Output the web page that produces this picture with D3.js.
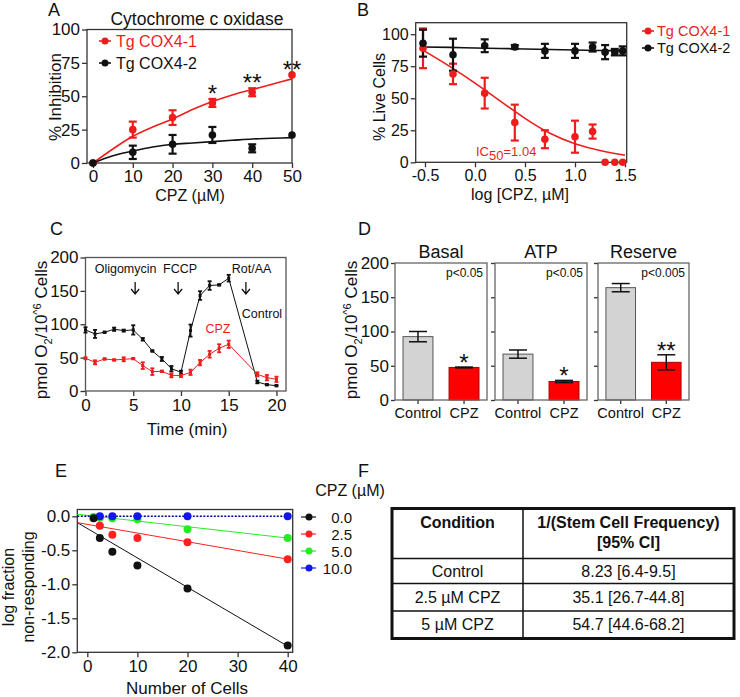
<!DOCTYPE html>
<html><head><meta charset="utf-8">
<script src="https://cdn.jsdelivr.net/npm/d3@7"></script>
<style>body{margin:0;background:#fff} svg{display:block} text{font-family:Arial,"Liberation Sans",Helvetica,sans-serif;fill:#111}</style>
</head><body><svg id="c" width="740" height="697"></svg>
<script>
// ---------------- DATA ----------------
// Panel A
const aDose = [0, 10, 20, 30, 40, 50];
const aCox1 = [0, 25, 34, 45, 53, 66];
const aCox1Err = [0, 6, 5.5, 3, 3, 0];
const aCox2 = [0, 8, 14, 21, 11, 21];
const aCox2Err = [0, 5, 7, 6, 3, 0];
const aFitDose = [0, 5, 10, 15, 20, 25, 30, 35, 40, 45, 50];
const aCox1Fit = [0, 10.5, 20, 27, 33, 40, 46, 51, 55, 59, 63];
const aCox2Fit = [0, 5.5, 9, 12, 14, 15, 16, 17, 18, 18.5, 19];
const aStars = [{dose: 30, s: "*"}, {dose: 40, s: "**"}, {dose: 50, s: "**"}];
const aXTicks = [0, 10, 20, 30, 40, 50];
const aYTicks = [0, 25, 50, 75, 100];
// Panel B
const bLogDose = [-0.52, -0.22, 0.097, 0.398, 0.699, 1.0, 1.176, 1.301, 1.398, 1.477];
const bCox1 = [89, 69, 54, 31, 18, 20, 24, 0, 0, 0];
const bCox1Err = [15.5, 8, 12, 14, 7, 12.5, 5.5, 0, 0, 0];
const bCox2 = [93, 84, 91, 90, 87, 87, 90, 86, 86, 87];
const bCox2Err = [10.5, 12.5, 5, 1.5, 5.5, 5.5, 3.5, 5.5, 2.5, 3.5];
const bFitX = [-0.52, -0.25, 0, 0.25, 0.5, 0.75, 1.0, 1.25, 1.5];
const bCox1Fit = [87.5, 75, 62, 48, 34, 22, 14, 9, 5.5];
const bCox2Fit = [90, 89.7, 89.3, 88.9, 88.5, 88.1, 87.7, 87.3, 87];
const bXTicks = [-0.5, 0, 0.5, 1.0, 1.5];
const bXLabels = ["-0.5", "0.0", "0.5", "1.0", "1.5"];
const bYTicks = [0, 25, 50, 75, 100];
// Panel C
const cTime = [0, 1, 2, 3, 4, 5, 6, 7, 8, 9, 10, 11, 12, 13, 14, 15, 18, 19, 20];
const cControl = [91.5, 85.5, 88, 92.5, 90.5, 91.5, 77.5, 60, 48, 33.5, 28, 90.5, 143, 158, 159, 169, 13.5, 9.5, 8];
const cControlErr = [4, 6, 1, 2.5, 1.5, 7, 2, 1, 3, 4, 2.5, 9, 6.5, 6.5, 1, 5, 2, 1, 1];
const cCPZ = [49, 43, 48, 46.5, 47.5, 48.5, 38, 29, 29.5, 23.5, 23, 28, 42.5, 55, 64, 70, 25, 20, 17.5];
const cCPZErr = [1.5, 3, 1, 1, 3, 1, 5, 5, 1, 3, 2, 4, 4, 5, 6, 5.5, 3, 4, 4];
const cXTicks = [0, 5, 10, 15, 20];
const cYTicks = [0, 50, 100, 150, 200];
const cEvents = [{name: "Oligomycin", t: 5.2, lx: 4.2}, {name: "FCCP", t: 9.7, lx: 9.9}, {name: "Rot/AA", t: 16.8, lx: 17.4}];
// Panel D
const dPanels = ["Basal", "ATP", "Reserve"];
const dGroups = ["Control", "CPZ"];
const dControl = [92.5, 67, 164];
const dControlErr = [7.5, 6, 6];
const dCPZ = [47.5, 27, 55];
const dCPZErr = [0.6, 1.6, 11];
const dPvals = ["p<0.05", "p<0.05", "p<0.005"];
const dStars = ["*", "*", "**"];
const dYTicks = [0, 50, 100, 150, 200];
// Panel E
const eConc = ["0.0", "2.5", "5.0", "10.0"];
const eCells0 = [1.25, 2.5, 5, 10, 20, 40];
const eVal0 = [-0.03, -0.32, -0.52, -0.725, -1.06, -1.9];
const eCells25 = [2.5, 5, 10, 20, 40];
const eVal25 = [-0.14, -0.27, -0.32, -0.38, -0.63];
const eCells50 = [1.25, 2.5, 5, 10, 20, 40];
const eVal50 = [-0.01, -0.02, -0.03, -0.045, -0.19, -0.32];
const eCells100 = [2.5, 5, 10, 20, 40];
const eVal100 = [0, 0, 0, 0, 0];
const eFitX = [-2, 40];
const eFit0 = [-0.093, -1.91];
const eFit25 = [-0.093, -0.63];
const eFit50 = [0.03, -0.32];
const eFit100 = [0, 0];
const eXTicks = [0, 10, 20, 30, 40];
const eYTicks = [0, -0.5, -1.0, -1.5, -2.0];
const eYLabels = ["0.0", "-0.5", "-1.0", "-1.5", "-2.0"];
// Panel F
const fHeader = ["Condition", "1/(Stem Cell Frequency)", "[95% CI]"];
const fConditions = ["Control", "2.5 \u00b5M CPZ", "5 \u00b5M CPZ"];
const fValues = ["8.23 [6.4-9.5]", "35.1 [26.7-44.8]", "54.7 [44.6-68.2]"];

// ---------------- HELPERS ----------------
const RED = "#ee1d1d";
const svg = d3.select("#c");

function txt(x, y, s, size, opts = {}) {
  const t = svg.append("text").attr("x", x).attr("y", y).attr("font-size", size)
    .attr("text-anchor", opts.anchor || "start").text(s);
  if (opts.fill) t.style("fill", opts.fill);
  if (opts.weight) t.attr("font-weight", opts.weight);
  return t;
}
function ylab(x, y, s, size) {
  return svg.append("text").attr("transform", `translate(${x},${y}) rotate(-90)`)
    .attr("text-anchor", "middle").attr("font-size", size).text(s);
}
function frame(x0, y0, x1, y1, col = "#444") {
  svg.append("rect").attr("x", x0).attr("y", y0).attr("width", x1 - x0).attr("height", y1 - y0)
    .attr("fill", "none").attr("stroke", col).attr("stroke-width", 1.3);
}
function styleAxis(g, fs) {
  g.select(".domain").remove();
  g.selectAll("line").attr("stroke", "#333").attr("stroke-width", 1.3);
  g.selectAll("text").attr("font-size", fs).style("fill", "#111");
}
function xAxis(scale, yPos, ticks, labels, fs, pad = 3) {
  const m = new Map(ticks.map((d, i) => [d, labels ? labels[i] : String(d)]));
  const g = svg.append("g").attr("transform", `translate(0,${yPos})`)
    .call(d3.axisBottom(scale).tickValues(ticks).tickFormat(d => m.get(d)).tickSize(5).tickSizeOuter(0).tickPadding(pad));
  styleAxis(g, fs);
  return g;
}
function yAxis(scale, xPos, ticks, labels, fs, pad = 2) {
  const m = new Map(ticks.map((d, i) => [d, labels ? labels[i] : String(d)]));
  const g = svg.append("g").attr("transform", `translate(${xPos},0)`)
    .call(d3.axisLeft(scale).tickValues(ticks).tickFormat(d => m.get(d)).tickSize(5).tickSizeOuter(0).tickPadding(pad));
  styleAxis(g, fs);
  return g;
}
function errBars(xs, ys, es, x, y, col, cap, sw) {
  xs.forEach((d, i) => {
    if (!es[i]) return;
    const cx = x(d), lo = y(ys[i] - es[i]), hi = y(ys[i] + es[i]);
    svg.append("line").attr("x1", cx).attr("x2", cx).attr("y1", lo).attr("y2", hi).attr("stroke", col).attr("stroke-width", sw);
    [lo, hi].forEach(yy => svg.append("line").attr("x1", cx - cap / 2).attr("x2", cx + cap / 2).attr("y1", yy).attr("y2", yy).attr("stroke", col).attr("stroke-width", sw));
  });
}
function curve(xs, ys, x, y, col, sw, c = d3.curveMonotoneX, dash = null) {
  const p = svg.append("path").datum(xs.map((d, i) => [d, ys[i]]))
    .attr("d", d3.line().x(d => x(d[0])).y(d => y(d[1])).curve(c))
    .attr("fill", "none").attr("stroke", col).attr("stroke-width", sw);
  if (dash) p.attr("stroke-dasharray", dash);
  return p;
}
function dots(xs, ys, x, y, col, r) {
  xs.forEach((d, i) => svg.append("circle").attr("cx", x(d)).attr("cy", y(ys[i])).attr("r", r).attr("fill", col));
}
function squares(xs, ys, x, y, col, s) {
  xs.forEach((d, i) => svg.append("rect").attr("x", x(d) - s / 2).attr("y", y(ys[i]) - s / 2).attr("width", s).attr("height", s).attr("fill", col));
}
function o2Label(x, y, size) {
  const t = svg.append("text").attr("transform", `translate(${x},${y}) rotate(-90)`)
    .attr("text-anchor", "middle").attr("font-size", size);
  t.append("tspan").text("pmol O");
  t.append("tspan").attr("font-size", size * 0.65).attr("dy", size * 0.3).text("2");
  t.append("tspan").attr("dy", -size * 0.3).text("/10");
  t.append("tspan").attr("font-size", size * 0.65).attr("dy", -size * 0.38).text("^6");
  t.append("tspan").attr("dy", size * 0.38).text(" Cells");
}

// ---------------- PANEL A ----------------
{
  const x = d3.scaleLinear().domain([-1.5, 50]).range([87, 292]);
  const y = d3.scaleLinear().domain([0, 100]).range([163, 29.5]);
  xAxis(x, 163, aXTicks, null, 17, 2);
  yAxis(y, 87, aYTicks, null, 17);
  frame(87, 29.5, 292, 163, "#333");
  curve(aFitDose, aCox1Fit, x, y, RED, 1.6);
  curve(aFitDose, aCox2Fit, x, y, "#111", 1.6);
  errBars(aDose, aCox1, aCox1Err, x, y, RED, 8, 2.2);
  errBars(aDose, aCox2, aCox2Err, x, y, "#111", 8, 2.2);
  dots(aDose, aCox1, x, y, RED, 3.8);
  dots(aDose, aCox2, x, y, "#111", 3.8);
  aStars.forEach(s => {
    const i = aDose.indexOf(s.dose);
    txt(x(s.dose), y(aCox1[i] + aCox1Err[i]) - 10 + 13, s.s, 24, {anchor: "middle"});
  });
  // legend
  [[RED, "Tg COX4-1", 41], ["#111", "Tg COX4-2", 63]].forEach(([c, s, yy]) => {
    svg.append("line").attr("x1", 99).attr("x2", 111).attr("y1", yy).attr("y2", yy).attr("stroke", c).attr("stroke-width", 1.6);
    svg.append("circle").attr("cx", 105).attr("cy", yy).attr("r", 3.5).attr("fill", c);
    txt(116, yy + 6, s, 16, {fill: c});
  });
  txt(197, 25, "Cytochrome c oxidase", 17.5, {anchor: "middle"});
  txt(190, 201, "CPZ (\u00b5M)", 16, {anchor: "middle"});
  ylab(61, 97, "% Inhibition", 17);
  txt(48, 16, "A", 18);
}

// ---------------- PANEL B ----------------
{
  const x = d3.scaleLinear().domain([-0.593, 1.517]).range([415.7, 626.7]);
  const y = d3.scaleLinear().domain([0, 109]).range([162.3, 22.7]);
  xAxis(x, 162.3, bXTicks, bXLabels, 16, 2);
  yAxis(y, 415.7, bYTicks, null, 16);
  frame(415.7, 22.7, 626.7, 162.3, "#333");
  curve(bFitX, bCox1Fit, x, y, RED, 1.6, d3.curveBasis);
  curve(bFitX, bCox2Fit, x, y, "#111", 1.6);
  errBars(bLogDose, bCox1, bCox1Err, x, y, RED, 8, 2.2);
  errBars(bLogDose, bCox2, bCox2Err, x, y, "#111", 8, 2.2);
  dots(bLogDose, bCox1, x, y, RED, 3.8);
  dots(bLogDose, bCox2, x, y, "#111", 3.8);
  [[RED, "Tg COX4-1", 31], ["#111", "Tg COX4-2", 48]].forEach(([c, s, yy]) => {
    svg.append("line").attr("x1", 642).attr("x2", 654).attr("y1", yy).attr("y2", yy).attr("stroke", c).attr("stroke-width", 1.6);
    svg.append("circle").attr("cx", 648).attr("cy", yy).attr("r", 3.5).attr("fill", c);
    txt(657, yy + 5, s, 14.5, {fill: c});
  });
  const ic = svg.append("text").attr("x", 476).attr("y", 156).attr("font-size", 13).style("fill", RED);
  ic.append("tspan").text("IC");
  ic.append("tspan").attr("dy", 4).attr("font-size", 13).text("50");
  ic.append("tspan").attr("dy", -4).text("=1.04");
  txt(520, 200, "log [CPZ, \u00b5M]", 16, {anchor: "middle"});
  ylab(385, 97, "% Live Cells", 16);
  txt(357, 16, "B", 18);
}

// ---------------- PANEL C ----------------
{
  const x = d3.scaleLinear().domain([0, 21]).range([85.5, 286]);
  const y = d3.scaleLinear().domain([0, 200]).range([391, 257.5]);
  xAxis(x, 391, cXTicks, null, 17);
  yAxis(y, 85.5, cYTicks, null, 17);
  frame(85.5, 257.5, 286, 391, "#555");
  curve(cTime, cControl, x, y, "#111", 1, d3.curveLinear);
  curve(cTime, cCPZ, x, y, RED, 1, d3.curveLinear);
  errBars(cTime, cControl, cControlErr, x, y, "#111", 4, 1.8);
  errBars(cTime, cCPZ, cCPZErr, x, y, RED, 4, 1.8);
  squares(cTime, cControl, x, y, "#111", 3);
  squares(cTime, cCPZ, x, y, RED, 3);
  cEvents.forEach(e => {
    txt(x(e.lx), 273, e.name, 12.5, {anchor: "middle"});
    const ax = x(e.t);
    svg.append("path").attr("d", `M${ax},282 V294 M${ax - 4},289 L${ax},294 L${ax + 4},289`)
      .attr("fill", "none").attr("stroke", "#111").attr("stroke-width", 1.3);
  });
  txt(262, 318, "Control", 12.5, {anchor: "middle"});
  txt(218, 333, "CPZ", 12.5, {anchor: "middle", fill: RED});
  txt(187, 435, "Time (min)", 17, {anchor: "middle"});
  o2Label(47, 330, 17);
  txt(50, 235, "C", 18);
}

// ---------------- PANEL D ----------------
{
  const y = d3.scaleLinear().domain([0, 200]).range([400, 263]);
  const ranges = [[395, 487], [495, 587], [598, 689]];
  dPanels.forEach((name, k) => {
    const [x0, x1] = ranges[k];
    const x = d3.scaleBand().domain(dGroups).range([x0, x1]).paddingInner(0.35).paddingOuter(0.174);
    const vals = [dControl[k], dCPZ[k]];
    const errs = [dControlErr[k], dCPZErr[k]];
    dGroups.forEach((gname, i) => {
      svg.append("rect").attr("x", x(gname)).attr("y", y(vals[i])).attr("width", x.bandwidth())
        .attr("height", y(0) - y(vals[i])).attr("fill", i === 0 ? "#d3d3d3" : "#ff0000")
        .attr("stroke", i === 0 ? "#555" : "#a00").attr("stroke-width", 1);
      const cx = x(gname) + x.bandwidth() / 2;
      const lo = y(vals[i] - errs[i]), hi = y(vals[i] + errs[i]);
      svg.append("line").attr("x1", cx).attr("x2", cx).attr("y1", lo).attr("y2", hi).attr("stroke", "#111").attr("stroke-width", 1.5);
      [lo, hi].forEach(yy => svg.append("line").attr("x1", cx - 9).attr("x2", cx + 9).attr("y1", yy).attr("y2", yy).attr("stroke", "#111").attr("stroke-width", 1.5));
    });
    const gx = svg.append("g").attr("transform", "translate(0,400)")
      .call(d3.axisBottom(x).tickSize(4).tickSizeOuter(0).tickPadding(4));
    styleAxis(gx, 14.5);
    const gy = svg.append("g").attr("transform", `translate(${x0},0)`)
      .call(d3.axisLeft(y).tickValues(dYTicks).tickSize(4).tickSizeOuter(0).tickPadding(2)
        .tickFormat(k === 0 ? d3.format("d") : () => ""));
    styleAxis(gy, 17);
    frame(x0, 263, x1, 400, "#666");
    txt((x0 + x1) / 2, 258, name, 18, {anchor: "middle"});
    txt(x1 - 4, 277, dPvals[k], 12, {anchor: "end"});
    const cx = x("CPZ") + x.bandwidth() / 2;
    txt(cx, y(dCPZ[k] + dCPZErr[k]) - 9 + 13, dStars[k], 24, {anchor: "middle"});
  });
  o2Label(357, 330, 17);
  txt(358, 235, "D", 18);
}

// ---------------- PANEL E ----------------
{
  const x = d3.scaleLinear().domain([-2, 41]).range([77.3, 292.7]);
  const y = d3.scaleLinear().domain([-2.0, 0.1]).range([652.3, 509.5]);
  xAxis(x, 652.3, eXTicks, null, 17);
  yAxis(y, 77.3, eYTicks, eYLabels, 17);
  frame(77.3, 509.5, 292.7, 652.3, "#333");
  const cols = ["#111", "#ff2020", "#22ee22", "#1414ee"];
  curve(eFitX, eFit0, x, y, cols[0], 1, d3.curveLinear);
  curve(eFitX, eFit25, x, y, cols[1], 1, d3.curveLinear);
  curve(eFitX, eFit50, x, y, cols[2], 1, d3.curveLinear);
  curve(eFitX, eFit100, x, y, "#000088", 1.6, d3.curveLinear, "2,1.5");
  dots(eCells50, eVal50, x, y, cols[2], 4);
  dots(eCells25, eVal25, x, y, cols[1], 4);
  dots(eCells100, eVal100, x, y, cols[3], 4);
  dots(eCells0, eVal0, x, y, cols[0], 4);
  txt(350, 496, "CPZ (\u00b5M)", 16, {anchor: "middle"});
  eConc.forEach((c, i) => {
    const yy = 517 + i * 17;
    svg.append("line").attr("x1", 301).attr("x2", 316).attr("y1", yy).attr("y2", yy).attr("stroke", cols[i]).attr("stroke-width", 1.2);
    svg.append("circle").attr("cx", 309).attr("cy", yy).attr("r", 3.5).attr("fill", cols[i]);
    txt(352, yy + 5.5, c, 15, {anchor: "end"});
  });
  txt(187, 694, "Number of Cells", 17, {anchor: "middle"});
  ylab(14, 587, "log fraction", 16);
  ylab(34, 587, "non-responding", 16);
  txt(55, 477, "E", 18);
}

// ---------------- PANEL F ----------------
{
  const L = 392, R = 734, M = 523, T = 508.5;
  const rowH = [50, 25, 27.5, 27.5];
  const ys = [T];
  rowH.forEach(h => ys.push(ys[ys.length - 1] + h));
  ys.slice(1, -1).forEach(yy => svg.append("line").attr("x1", L).attr("x2", R).attr("y1", yy).attr("y2", yy).attr("stroke", "#111").attr("stroke-width", 1.5));
  svg.append("line").attr("x1", M).attr("x2", M).attr("y1", T).attr("y2", ys[ys.length - 1]).attr("stroke", "#111").attr("stroke-width", 1.5);
  svg.append("rect").attr("x", L).attr("y", T).attr("width", R - L).attr("height", ys[ys.length - 1] - T)
    .attr("fill", "none").attr("stroke", "#111").attr("stroke-width", 3);
  const c1 = (L + M) / 2, c2 = (M + R) / 2;
  txt(c1, 528, fHeader[0], 16, {anchor: "middle", weight: "bold"});
  txt(c2, 528, fHeader[1], 16, {anchor: "middle", weight: "bold"});
  txt(c2, 547.5, fHeader[2], 16, {anchor: "middle", weight: "bold"});
  fConditions.forEach((c, i) => {
    const yy = (ys[i + 1] + ys[i + 2]) / 2 + 5.5;
    txt(c1, yy, c, 16, {anchor: "middle"});
    txt(c2, yy, fValues[i], 16, {anchor: "middle"});
  });
  txt(358, 477, "F", 18);
}
</script></body></html>
